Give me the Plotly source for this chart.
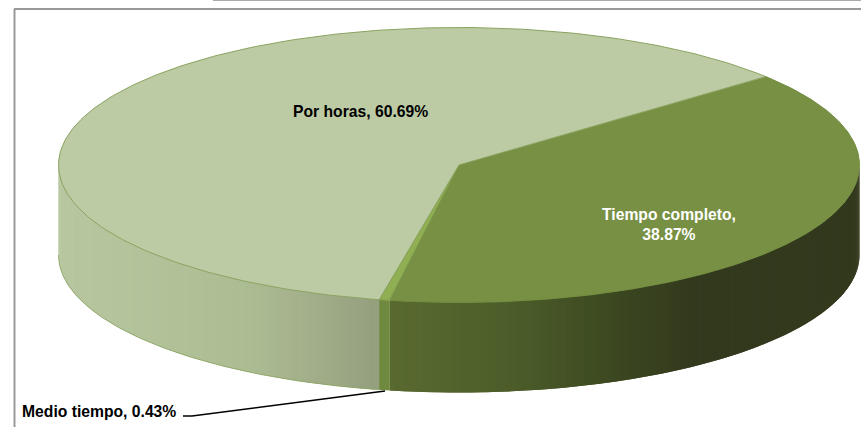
import numpy as np
import plotly.graph_objects as go

labels = ["Tiempo completo", "Medio tiempo", "Por horas"]
shares = [38.87, 0.43, 60.69]
top_colors = ["#789043", "#8FAF52", "#BCCBA4"]
edge_colors = ["#6F8A3C", "#7F9C48", "#8AA35F"]

# side colours along x (pixel, colour), lit from the left like the original
side_stops = {
    "Tiempo completo": [(391, (90, 107, 49)), (520, (76, 93, 42)), (620, (60, 72, 33)), (700, (51, 57, 29)), (860, (51, 57, 29))],
    "Medio tiempo": [(380, (111, 138, 62)), (391, (111, 138, 62))],
    "Por horas": [(58, (184, 199, 160)), (250, (173, 189, 147)), (320, (162, 174, 138)), (380, (148, 160, 126))],
}

# pie geometry in page pixels
cx, cy = 459, 165
rx, ry = 400.5, 137.5
depth = 90
start_angle = 40


def ellipse(t):
    t = np.radians(t)
    return cx + rx * np.cos(t), cy - ry * np.sin(t)


fig = go.Figure()


def poly(x, y, fill, line, width=1):
    fig.add_trace(go.Scatter(x=x, y=y, mode="lines", fill="toself", fillcolor=fill,
                             line=dict(color=line, width=width), hoverinfo="skip", showlegend=False))


# slice angles, clockwise from the start angle
ends = start_angle - np.cumsum(shares) / sum(shares) * 360
begins = np.concatenate([[start_angle], ends[:-1]])

# sides first, only the front half of the pie shows
for name, a, b in zip(labels, begins, ends):
    a0 = min(a, 0)
    b0 = max(b, -180)
    n = max(2, int((a0 - b0) * 1.5))
    tt = np.linspace(a0, b0, n + 1)
    stops = side_stops[name]
    # painted from the far end so each strip overlaps the next and no seams show
    for i in range(n - 1, -1, -1):
        arc = tt[i:i + 3]
        ax, ay = ellipse(arc)
        mid = ax[:2].mean()
        c = [np.interp(mid, [s[0] for s in stops], [s[1][k] for s in stops]) for k in range(3)]
        col = "rgb(%d,%d,%d)" % tuple(c)
        poly(np.concatenate([ax, ax[::-1], ax[:1]]), np.concatenate([ay, ay[::-1] + depth, ay[:1]]), col, col, 0)

# thin outline under the big slice
tt = np.linspace(begins[2], max(ends[2], -180), 200)
ox, oy = ellipse(tt)
fig.add_trace(go.Scatter(x=ox, y=oy + depth, mode="lines", line=dict(color=edge_colors[2], width=0.8),
                         hoverinfo="skip", showlegend=False))

# top face
for name, a, b, fill, edge in zip(labels, begins, ends, top_colors, edge_colors):
    tt = np.linspace(a, b, 240)
    ex, ey = ellipse(tt)
    poly(np.concatenate([[cx], ex, [cx]]), np.concatenate([[cy], ey, [cy]]), fill, edge, 1)

# leader line for the small slice
fig.add_trace(go.Scatter(x=[183, 192, 385], y=[416, 416, 391], mode="lines",
                         line=dict(color="black", width=1.6), hoverinfo="skip", showlegend=False))

font = dict(family="Liberation Sans", size=15.7, color="black")
fig.add_annotation(x=360, y=111, text="<b>%s, %.2f%%</b>" % (labels[2], shares[2]), showarrow=False, font=font)
fig.add_annotation(x=669, y=224, text="<b>%s,<br>%.2f%%</b>" % (labels[0], shares[0]), showarrow=False,
                   font=dict(family="Liberation Sans", size=15.7, color="white"))
fig.add_annotation(x=99, y=411, text="<b>%s, %.2f%%</b>" % (labels[1], shares[1]), showarrow=False, font=font)

# frame lines of the chart area
fig.add_shape(type="line", x0=14.5, x1=14.5, y0=9, y1=427, line=dict(color="#999999", width=2))
fig.add_shape(type="line", x0=14, x1=861, y0=9, y1=9, line=dict(color="#999999", width=2))
fig.add_shape(type="line", x0=213, x1=861, y0=0, y1=0, line=dict(color="#AAAAAA", width=2))

fig.update_layout(
    width=861, height=427, margin=dict(l=0, r=0, t=0, b=0),
    paper_bgcolor="white", plot_bgcolor="white", showlegend=False,
    xaxis=dict(range=[0, 861], visible=False, fixedrange=True),
    yaxis=dict(range=[427, 0], visible=False, fixedrange=True),
)

# the page's default body margin would push the figure 8px off
fig.write_html("out.html", config=dict(displayModeBar=False),
               post_script="document.body.style.margin='0';document.body.style.overflow='hidden';")
